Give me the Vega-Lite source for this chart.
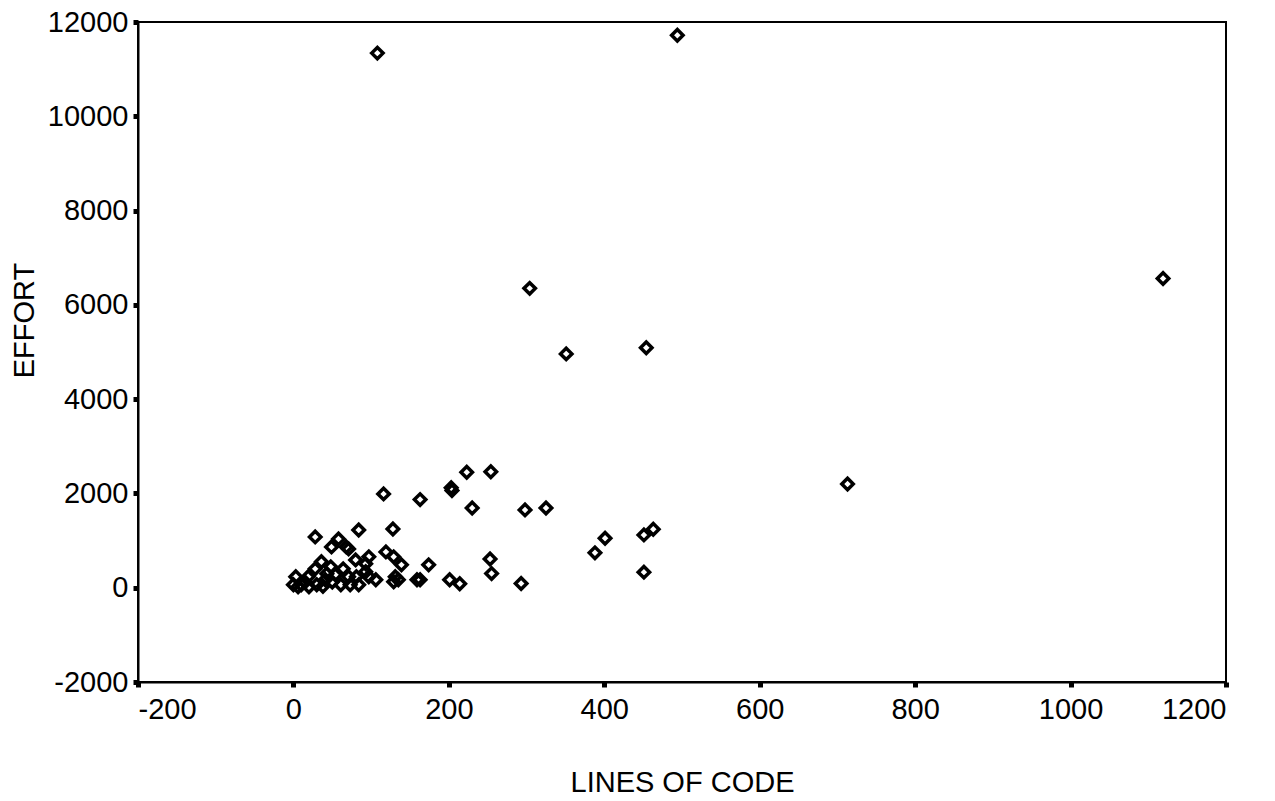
{
  "$schema": "https://vega.github.io/schema/vega-lite/v6.json",
  "width": 1088,
  "height": 660,
  "autosize": {"type": "none"},
  "padding": {"left": 138, "top": 22, "right": 49, "bottom": 119},
  "background": "white",
  "config": {
    "view": {"stroke": "black", "strokeWidth": 2},
    "axis": {
      "grid": false,
      "domainColor": "black",
      "domainWidth": 2,
      "tickColor": "black",
      "tickSize": 5,
      "tickWidth": 5,
      "labelFont": "Liberation Sans",
      "labelFontSize": 29,
      "labelColor": "black",
      "titleFont": "Liberation Sans",
      "titleFontSize": 29,
      "titleFontWeight": "normal",
      "titleColor": "black"
    }
  },
  "data": {
    "values": [
      {"loc": 108, "effort": 11340},
      {"loc": 494, "effort": 11720},
      {"loc": 304, "effort": 6350},
      {"loc": 351, "effort": 4960},
      {"loc": 454, "effort": 5090},
      {"loc": 1119, "effort": 6560},
      {"loc": 713, "effort": 2200},
      {"loc": 116, "effort": 1990},
      {"loc": 163, "effort": 1870},
      {"loc": 203, "effort": 2120},
      {"loc": 204, "effort": 2060},
      {"loc": 223, "effort": 2450},
      {"loc": 254, "effort": 2460},
      {"loc": 230, "effort": 1690},
      {"loc": 298, "effort": 1650},
      {"loc": 325, "effort": 1690},
      {"loc": 388, "effort": 740},
      {"loc": 401, "effort": 1050},
      {"loc": 451, "effort": 1120},
      {"loc": 463, "effort": 1240},
      {"loc": 451, "effort": 330},
      {"loc": 293, "effort": 90},
      {"loc": 139, "effort": 485},
      {"loc": 135, "effort": 170},
      {"loc": 174, "effort": 485},
      {"loc": 163, "effort": 170},
      {"loc": 201, "effort": 170},
      {"loc": 214, "effort": 85},
      {"loc": 253, "effort": 610},
      {"loc": 255, "effort": 300},
      {"loc": 28, "effort": 1077},
      {"loc": 58, "effort": 1035},
      {"loc": 84, "effort": 1224},
      {"loc": 128, "effort": 1245},
      {"loc": 49, "effort": 865},
      {"loc": 68, "effort": 865},
      {"loc": 71, "effort": 823},
      {"loc": 97, "effort": 655},
      {"loc": 119, "effort": 760},
      {"loc": 129, "effort": 655},
      {"loc": 80, "effort": 590},
      {"loc": 93, "effort": 507},
      {"loc": 131, "effort": 232},
      {"loc": 129, "effort": 127},
      {"loc": 159, "effort": 170},
      {"loc": 3, "effort": 232},
      {"loc": 10, "effort": 63},
      {"loc": 19, "effort": 232},
      {"loc": 28, "effort": 400},
      {"loc": 36, "effort": 550},
      {"loc": 30, "effort": 63},
      {"loc": 41, "effort": 170},
      {"loc": 48, "effort": 443},
      {"loc": 54, "effort": 274},
      {"loc": 61, "effort": 63},
      {"loc": 71, "effort": 232},
      {"loc": 81, "effort": 232},
      {"loc": 73, "effort": 63},
      {"loc": 84, "effort": 63},
      {"loc": 6, "effort": 21},
      {"loc": 0, "effort": 63},
      {"loc": 43, "effort": 296},
      {"loc": 64, "effort": 400},
      {"loc": 93, "effort": 338},
      {"loc": 97, "effort": 232},
      {"loc": 106, "effort": 170},
      {"loc": 20, "effort": 20},
      {"loc": 38, "effort": 30},
      {"loc": 50, "effort": 120},
      {"loc": 15, "effort": 120}
    ]
  },
  "mark": {"type": "point", "shape": "diamond", "filled": false, "stroke": "black", "strokeWidth": 3.5, "size": 130, "opacity": 1},
  "encoding": {
    "x": {
      "field": "loc", "type": "quantitative", "title": "LINES OF CODE",
      "scale": {"domain": [-200, 1200], "nice": false, "zero": false},
      "axis": {"values": [-200, 0, 200, 400, 600, 800, 1000, 1200], "labelPadding": 8, "titlePadding": 44, "labelExpr": "toString(datum.value)"}
    },
    "y": {
      "field": "effort", "type": "quantitative", "title": "EFFORT",
      "scale": {"domain": [-2000, 12000], "nice": false, "zero": false},
      "axis": {"values": [-2000, 0, 2000, 4000, 6000, 8000, 10000, 12000], "labelPadding": 5, "titlePadding": 8, "titleY": 298, "labelExpr": "toString(datum.value)"}
    }
  }
}
